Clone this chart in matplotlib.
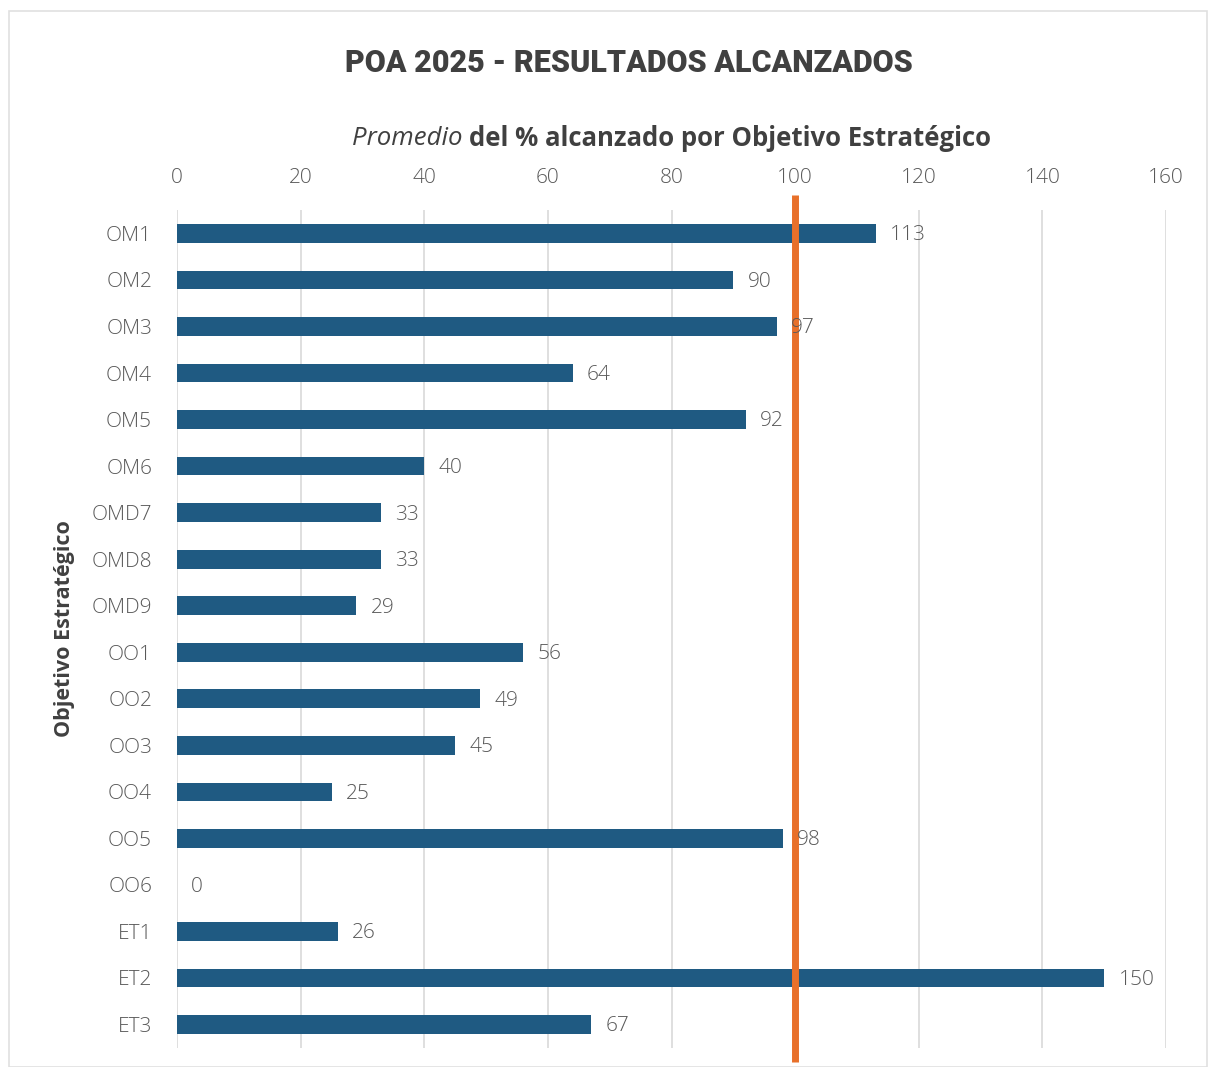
import matplotlib
matplotlib.use('Agg')
import matplotlib.pyplot as plt
from matplotlib.patches import Rectangle

# data
categories = ['OM1', 'OM2', 'OM3', 'OM4', 'OM5', 'OM6', 'OMD7', 'OMD8', 'OMD9',
              'OO1', 'OO2', 'OO3', 'OO4', 'OO5', 'OO6', 'ET1', 'ET2', 'ET3']
values = [113, 90, 97, 64, 92, 40, 33, 33, 29, 56, 49, 45, 25, 98, 0, 26, 150, 67]
target = 100
xticks = [0, 20, 40, 60, 80, 100, 120, 140, 160]

bar_color = '#1F5A82'
line_color = '#E8702A'
text_grey = '#595959'
grid_grey = '#D9D9D9'

plt.rcParams['font.family'] = ['Open Sans', 'DejaVu Sans']

fig = plt.figure(figsize=(12.16, 10.67), dpi=100)
fig.patches.append(Rectangle((0.007, 0.0), 0.986, 0.99, transform=fig.transFigure,
                             fill=False, edgecolor='#E0E0E0', linewidth=1.2))

ax = fig.add_axes([0.1456, 0.018, 0.8133, 0.785])
y = list(range(len(categories)))
ax.barh(y, values, height=0.4, color=bar_color, zorder=2)
ax.set_ylim(len(categories) - 0.5, -0.5)
ax.set_xlim(0, 160)
ax.set_xticks(xticks)
ax.xaxis.tick_top()
ax.tick_params(axis='x', length=0, pad=16, labelsize=15, labelcolor=text_grey)
ax.tick_params(axis='y', length=0, pad=18, labelsize=15, labelcolor=text_grey)
ax.set_yticks(y)
ax.set_yticklabels(categories)
for lab in ax.get_xticklabels() + ax.get_yticklabels():
    lab.set_fontweight('light')
ax.grid(axis='x', color=grid_grey, linewidth=1.2, zorder=0)
for s in ax.spines.values():
    s.set_visible(False)

for yi, v in zip(y, values):
    ax.text(v + 2.3, yi + 0.04, str(v), va='center', ha='left', fontsize=15,
            color=text_grey, fontweight='light', zorder=4)

# target line, drawn a bit past the plot area
ax.plot([target, target], [-0.82, 17.8], color=line_color, linewidth=5,
        clip_on=False, zorder=3, solid_capstyle='butt')

ax.set_ylabel('Objetivo Estratégico', fontsize=15.5, fontweight='bold',
              color='#404040', labelpad=12)

fig.text(0.517, 0.941, 'POA 2025 - RESULTADOS ALCANZADOS',
         family=['Roboto', 'DejaVu Sans'], fontweight='black',
         fontsize=22, color='#404040', ha='center', va='center')

# subtitle with mixed italic / bold
fig.canvas.draw()
r = fig.canvas.get_renderer()
t1 = fig.text(0, 0.870, 'Promedio ', fontstyle='italic', fontsize=18.5,
              color='#404040', va='center')
t2 = fig.text(0, 0.870, 'del % alcanzado por Objetivo Estratégico', fontweight='bold',
              fontsize=18.5, color='#404040', va='center')
w1 = t1.get_window_extent(r).width / fig.bbox.width
w2 = t2.get_window_extent(r).width / fig.bbox.width
x0 = 0.552 - (w1 + w2) / 2
t1.set_x(x0)
t2.set_x(x0 + w1)

fig.savefig('out.png', dpi=100)
